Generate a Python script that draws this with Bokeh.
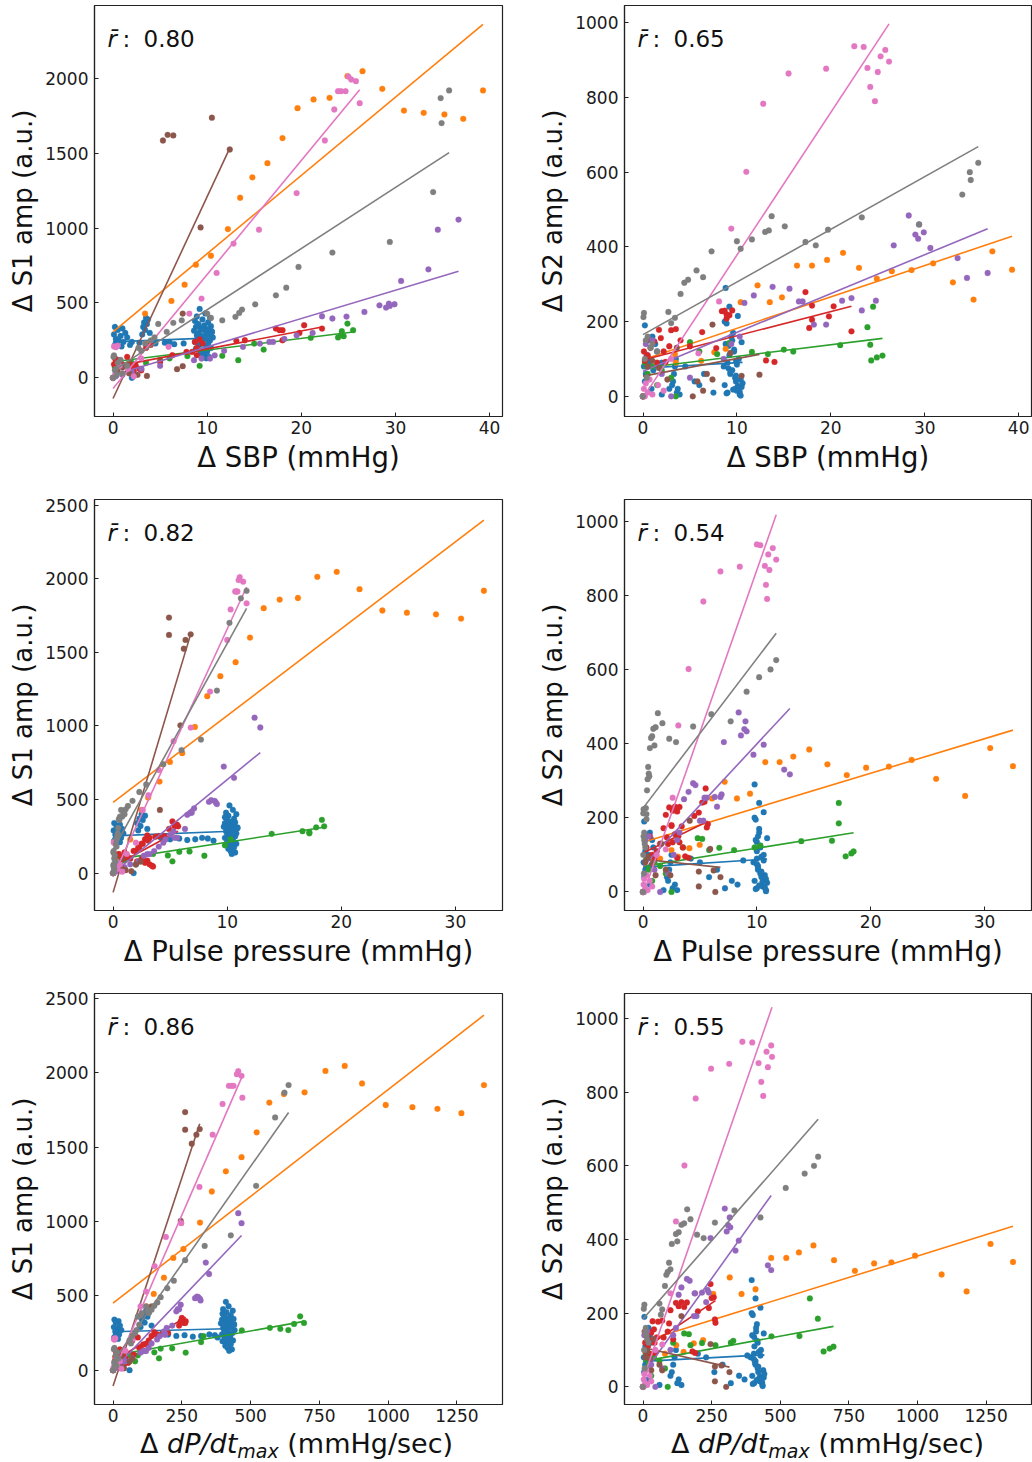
from bokeh.plotting import figure
from bokeh.layouts import column, row
from bokeh.models import Range1d, FixedTicker, Label, Div
from bokeh.embed import file_html
from bokeh.resources import INLINE

FONT = "DejaVu Sans"
COLORS = ["#1f77b4", "#ff7f0e", "#2ca02c", "#d62728", "#9467bd", "#8c564b", "#e377c2", "#7f7f7f"]

# ---------------- data: one list per quantity per subject ----------------
BLUE_S1 = [460, 430, 410, 400, 390, 380, 370, 360, 350, 345, 340, 330, 325, 320, 315, 310, 300, 295, 290, 285,
           280, 270, 265, 260, 250, 240, 235, 230, 220, 210, 200, 195, 185, 175, 165, 150, 140, 130, 355, 305,
           340, 330, 320, 300, 290, 280, 270, 260, 250, 240, 230, 220, 210, 0,
           400, 390, 370, 360, 340, 320, 300, 290,
           240, 230, 235, 225, 230, 240, 235, 220, 0]
BLUE_SBP = [9.2, 9.8, 8.9, 10.3, 9.5, 8.7, 10.1, 9.0, 9.7, 10.4, 8.8, 9.3, 10.0, 9.6, 8.6, 10.5, 9.1, 9.9, 10.2, 8.9,
            9.4, 10.6, 9.0, 9.8, 10.3, 8.7, 9.5, 10.1, 9.2, 9.9, 10.4, 8.8, 9.6, 10.0, 9.3, 9.7, 10.2, 9.9, 9.1, 10.5,
            0.2, 1.0, 0.5, 1.3, 0.1, 0.8, 1.5, 0.3, 0.6, 1.1, 0.4, 0.2, 0.9, 0.0,
            3.5, 3.7, 3.3, 3.6, 3.2, 3.4, 3.9, 3.1,
            2.0, 4.5, 5.5, 6.5, 7.5, 6.0, 2.8, 1.8, 2.0]
BLUE_PP = [10.2, 10.5, 9.9, 10.8, 10.1, 9.8, 10.6, 10.0, 10.3, 10.7, 9.8, 10.1, 10.5, 10.2, 9.7, 10.9, 10.0, 10.4, 10.6, 9.9,
           10.2, 10.8, 10.0, 10.3, 10.7, 9.8, 10.1, 10.5, 10.0, 10.4, 10.8, 9.9, 10.2, 10.6, 10.1, 10.3, 10.7, 10.4, 10.0, 10.9,
           0.1, 0.6, 0.3, 0.8, 0.05, 0.5, 0.9, 0.2, 0.4, 0.7, 0.2, 0.1, 0.6, 0.0,
           2.5, 2.8, 2.3, 2.6, 2.1, 2.4, 3.0, 2.2,
           4.2, 5.0, 5.8, 6.5, 7.2, 7.8, 8.3, 8.8, 1.8]
BLUE_DPDT = [410, 420, 400, 435, 412, 398, 428, 405, 418, 438, 396, 410, 425, 415, 392, 440, 405, 420, 430, 400,
             412, 442, 404, 418, 434, 396, 410, 426, 406, 420, 436, 398, 414, 428, 408, 416, 432, 422, 404, 440,
             5, 20, 10, 25, 3, 15, 30, 8, 12, 22, 9, 4, 18, 0,
             120, 130, 110, 125, 105, 115, 140, 100,
             200, 230, 260, 290, 320, 350, 370, 380, 60]
BLUE_S2 = [240, 20, 195, 5, 150, 30, 215, 10, 120, 45, 290, 60, 15, 170, 80, 25, 135, 40, 100, 8,
           160, 35, 90, 50, 12, 200, 70, 28, 110, 55, 2, 140, 18, 85, 65, 125, 22, 95, 75, 145,
           190, 160, 150, 140, 80, 100, 120, 60, 90, 70, 110, 40, 20, 0,
           100, 20, 60, 10, 40, 80, 5, 30,
           90, 80, 40, 60, 10, 30, 20, 85, 5]

ORANGE_S1 = [0, 229, 429, 513, 622, 755, 815, 993, 1202, 1338, 1433, 1600, 1800, 1858, 1869, 2013, 2047, 1929, 1784, 1769, 1758, 1729, 1918]
ORANGE_SBP = [0.0, 3.5, 3.4, 6.2, 7.6, 8.8, 10.4, 12.2, 13.5, 14.8, 16.4, 18.0, 19.6, 21.3, 23.0, 24.9, 26.5, 28.6, 30.9, 33.0, 35.2, 37.2, 39.3]
ORANGE_PP = [0.0, 1.5, 2.5, 3.07, 4.07, 4.98, 6.06, 7.17, 8.25, 9.4, 10.74, 12.0, 13.2, 14.6, 16.2, 17.9, 19.6, 21.6, 23.6, 25.75, 28.3, 30.5, 32.5]
ORANGE_DPDT = [0, 80, 121, 148, 185, 219, 256, 316, 359, 410, 467, 522, 568, 621, 696, 772, 842, 905, 991, 1088, 1179, 1266, 1348]
ORANGE_S2 = [0, 90, 113, 95, 118, 127, 252, 297, 252, 265, 350, 350, 365, 384, 344, 315, 335, 338, 356, 305, 259, 388, 339]

GREEN_S1 = [278, 270, 285, 311, 362, 318, 267, 229, 189, 118, 147, 145, 80, 120, 100, 90, 110, 70, 60, 100, 0, 130, 85]
GREEN_SBP = [24.5, 23.9, 24.2, 24.3, 24.9, 25.5, 21.0, 15.0, 16.0, 13.3, 11.6, 7.9, 9.2, 5.0, 2.0, 1.0, 0.5, 0.2, 3.0, 3.5, 0.0, 6.0, 1.5]
GREEN_PP = [17.2, 17.2, 16.6, 17.8, 18.3, 18.5, 13.9, 10.3, 9.8, 8.0, 6.7, 5.8, 5.2, 4.8, 1.5, 1.0, 0.5, 0.3, 2.0, 2.5, 0.0, 3.5, 0.8]
GREEN_DPDT = [608, 637, 570, 658, 680, 694, 468, 329, 320, 264, 215, 173, 167, 150, 60, 40, 20, 10, 80, 90, 0, 110, 30]
GREEN_S2 = [240, 185, 138, 96, 104, 109, 137, 125, 120, 113, 119, 113, 143, 145, 70, 80, 60, 90, 50, 0, 0, 120, 30]

RED_S1 = [329, 351, 300, 318, 318, 329, 251, 251, 247, 256, 240, 230, 200, 173, 151, 151, 173, 84, 60, 50,
          70, 90, 45, 80, 100, 120, 110, 130, 90, 60, 0, 140, 200, 220, 105]
RED_SBP = [22.2, 20.3, 19.8, 18.0, 17.7, 17.3, 18.0, 14.0, 13.1, 9.2, 8.7, 9.5, 8.9, 8.4, 8.9, 6.3, 7.8, 2.4, 2.8, 3.0,
           1.9, 1.7, 2.2, 1.2, 0.8, 0.5, 0.3, 0.2, 0.1, 0.4, 0.0, 1.5, 3.5, 4.0, 5.0]
RED_PP = [5.6, 5.2, 4.9, 5.4, 5.7, 5.5, 4.5, 4.0, 3.7, 3.0, 3.2, 2.8, 2.6, 2.3, 2.0, 1.8, 2.2, 3.0, 3.2, 3.4,
          2.8, 2.5, 3.5, 2.1, 1.5, 1.2, 0.8, 0.5, 0.3, 0.6, 0.0, 1.0, 2.5, 3.1, 2.6]
RED_DPDT = [264, 250, 240, 258, 262, 246, 200, 190, 180, 150, 160, 140, 130, 120, 100, 95, 110, 45, 50, 55,
            40, 35, 42, 30, 20, 18, 12, 10, 8, 6, 0, 25, 70, 90, 75]
RED_S2 = [174, 241, 214, 243, 183, 279, 205, 92, 96, 217, 229, 230, 219, 228, 208, 172, 129, 92, 134, 177,
          156, 178, 120, 147, 130, 110, 100, 95, 120, 150, 0, 90, 180, 150, 134]

PURPLE_S1 = [1056, 989, 724, 647, 491, 480, 469, 484, 495, 440, 409, 396, 411, 300, 284, 260, 240, 240, 229, 207,
             180, 150, 129, 129, 118, 60, 40, 20, 10, 0, 80]
PURPLE_SBP = [36.7, 34.5, 33.5, 30.6, 29.9, 29.4, 29.0, 28.3, 29.3, 26.7, 24.8, 23.3, 22.2, 21.2, 19.5, 18.2, 17.0, 16.6, 15.6, 13.8,
              11.8, 10.8, 10.3, 9.4, 8.6, 3.0, 2.0, 1.0, 0.3, 0.0, 5.0]
PURPLE_PP = [12.4, 12.9, 9.7, 10.6, 8.9, 9.0, 9.1, 8.4, 8.6, 7.1, 6.8, 6.5, 6.9, 6.3, 5.3, 5.0, 5.6, 5.4, 4.6, 4.4,
             4.0, 3.6, 3.2, 3.0, 2.7, 1.5, 1.0, 0.5, 0.2, 0.0, 2.2]
PURPLE_DPDT = [455, 467, 337, 349, 310, 316, 318, 298, 305, 246, 240, 230, 235, 215, 195, 185, 190, 188, 170, 160,
               140, 130, 120, 110, 100, 45, 30, 15, 5, 0, 70]
PURPLE_S2 = [330, 317, 370, 397, 439, 460, 433, 484, 422, 404, 256, 230, 263, 256, 192, 192, 254, 254, 288, 293,
             270, 250, 160, 140, 100, 0, 60, 150, 140, 0, 50]

BROWN_S1 = [1736, 1618, 1524, 1584, 1622, 1004, 429, 0, 40, 70, 13, 58, 78, 30, 20]
BROWN_SBP = [10.5, 6.4, 12.4, 5.3, 5.8, 9.3, 7.4, 0.0, 0.5, 1.0, 3.6, 6.8, 7.4, 1.7, 2.6]
BROWN_PP = [4.9, 4.9, 6.2, 6.35, 6.8, 5.9, 4.1, 0.0, 0.2, 0.4, 1.6, 2.0, 2.4, 0.8, 1.1]
BROWN_DPDT = [262, 262, 286, 303, 315, 246, 140, 0, 8, 15, 40, 60, 70, 25, 30]
BROWN_S2 = [55, 15, 58, 0, 40, 116, 192, 0, 80, 95, 130, 60, 45, 76, 45]

PINK_S1 = [1584, 1791, 1980, 1913, 1233, 2011, 1833, 989, 1913, 1913, 896, 700, 529, 429, 1991, 207,
           210, 205, 215, 30, 10, 60, 130, 80, 0, 20]
PINK_SBP = [22.5, 23.5, 25.8, 23.9, 19.5, 25.0, 26.2, 15.5, 24.2, 24.7, 12.8, 11.0, 9.4, 8.1, 25.3, 5.9,
            0.1, 0.3, 0.5, 1.0, 2.2, 1.6, 3.0, 0.7, 0.0, 0.2]
PINK_PP = [10.0, 10.3, 11.4, 10.7, 8.5, 11.1, 11.7, 6.8, 10.8, 10.9, 5.3, 4.0, 3.1, 2.6, 11.0, 2.0,
           0.05, 0.1, 0.2, 0.4, 0.8, 0.6, 1.2, 0.3, 0.0, 0.1]
PINK_DPDT = [362, 398, 467, 421, 314, 455, 470, 248, 431, 438, 192, 151, 120, 100, 450, 70,
             3, 5, 8, 15, 30, 25, 45, 12, 0, 2]
PINK_S2 = [937, 935, 927, 879, 877, 868, 896, 864, 828, 790, 783, 601, 449, 254, 910, 115,
           20, 35, 10, 5, 15, 30, 100, 45, 0, 0]

GRAY_S1 = [1918, 1867, 1700, 1240, 907, 836, 740, 602, 551, 491, 456, 433, 407, 384, 429, 400, 384, 367, 307, 360,
           270, 250, 230, 200, 180, 150, 140, 100, 60, 30, 80, 120, 50, 0, 20]
GRAY_SBP = [35.7, 34.8, 34.9, 34.0, 29.4, 23.3, 19.7, 18.4, 17.3, 15.1, 13.7, 13.4, 13.0, 11.6, 10.0, 10.4, 7.3, 6.4, 5.7, 4.8,
            4.4, 4.0, 3.4, 2.7, 3.0, 0.1, 0.05, 0.5, 0.3, 1.0, 1.5, 0.8, 0.2, 0.0, 0.4]
GRAY_PP = [11.7, 11.2, 10.2, 9.1, 7.7, 6.0, 4.4, 2.9, 2.3, 1.7, 1.3, 1.1, 0.9, 0.8, 0.7, 1.0, 0.6, 0.5, 0.45, 0.55,
           0.4, 0.35, 0.3, 0.25, 0.3, 0.05, 0.02, 0.1, 0.05, 0.1, 0.2, 0.15, 0.02, 0.0, 0.08]
GRAY_DPDT = [638, 623, 589, 520, 428, 333, 262, 221, 197, 173, 161, 150, 140, 130, 120, 125, 105, 100, 95, 90,
             85, 80, 70, 60, 65, 5, 3, 10, 8, 12, 20, 15, 4, 0, 6]
GRAY_S2 = [625, 600, 579, 540, 460, 479, 446, 404, 413, 455, 482, 444, 440, 420, 415, 395, 388, 319, 337, 312,
           304, 274, 210, 226, 196, 223, 212, 160, 150, 140, 120, 130, 100, 0, 50]

# regression lines (intercept, slope) per panel, subject order blue..gray
FIT_B_SBP_S1 = [240, 307, 107, 73, 18, -138, -71, 47]
FIT_M_SBP_S1 = [2.5, 52.2, 7.8, 12.0, 18.9, 134.8, 76.1, 40.8]
FIT_B_SBP_S2 = [75, 98, 76, 97, 67, 54, -4, 165]
FIT_M_SBP_S2 = [1.5, 8.4, 3.1, 6.5, 10.4, 4.7, 38.2, 14.1]
FIT_B_PP_S1 = [253, 480, 90, 45, 0, -131, -22, 160]
FIT_M_PP_S1 = [3.0, 59.0, 12.0, 42.0, 63.5, 258.0, 168.0, 140.0]
FIT_B_PP_S2 = [67, 134, 69, 105, 69, 88, -7, 226]
FIT_M_PP_S2 = [2.0, 9.3, 4.9, 15.0, 33.0, -3.2, 87.5, 40.3]
FIT_B_DP_S1 = [258, 451, 99, 60, 0, -107, -22, 56]
FIT_M_DP_S1 = [0.05, 1.437, 0.33, 1.12, 1.94, 5.6, 4.26, 2.63]
FIT_B_DP_S2 = [69, 123, 69, 102, 34, 107, 20, 184]
FIT_M_DP_S2 = [0.04, 0.232, 0.137, 0.5, 1.04, -0.17, 2.15, 0.85]

R_BAR = ["0.80", "0.65", "0.82", "0.54", "0.86", "0.55"]
X_TICKS_SBP = [0, 10, 20, 30, 40]
X_TICKS_PP = [0, 10, 20, 30]
X_TICKS_DP = [0, 250, 500, 750, 1000, 1250]
Y_TICKS_S1 = [0, 500, 1000, 1500, 2000, 2500]
Y_TICKS_S2 = [0, 200, 400, 600, 800, 1000]

SUBJECTS = [
    dict(SBP=BLUE_SBP, PP=BLUE_PP, DP=BLUE_DPDT, S1=BLUE_S1, S2=BLUE_S2),
    dict(SBP=ORANGE_SBP, PP=ORANGE_PP, DP=ORANGE_DPDT, S1=ORANGE_S1, S2=ORANGE_S2),
    dict(SBP=GREEN_SBP, PP=GREEN_PP, DP=GREEN_DPDT, S1=GREEN_S1, S2=GREEN_S2),
    dict(SBP=RED_SBP, PP=RED_PP, DP=RED_DPDT, S1=RED_S1, S2=RED_S2),
    dict(SBP=PURPLE_SBP, PP=PURPLE_PP, DP=PURPLE_DPDT, S1=PURPLE_S1, S2=PURPLE_S2),
    dict(SBP=BROWN_SBP, PP=BROWN_PP, DP=BROWN_DPDT, S1=BROWN_S1, S2=BROWN_S2),
    dict(SBP=PINK_SBP, PP=PINK_PP, DP=PINK_DPDT, S1=PINK_S1, S2=PINK_S2),
    dict(SBP=GRAY_SBP, PP=GRAY_PP, DP=GRAY_DPDT, S1=GRAY_S1, S2=GRAY_S2),
]

PANELS = [
    dict(x="SBP", y="S1", xr=(-1.97, 41.37), yr=(-258, 2485), xt=X_TICKS_SBP, yt=Y_TICKS_S1[:-1],
         b=FIT_B_SBP_S1, m=FIT_M_SBP_S1, xlabel="Δ SBP (mmHg)", ylabel="Δ S1 amp (a.u.)"),
    dict(x="SBP", y="S2", xr=(-1.97, 41.37), yr=(-54, 1046), xt=X_TICKS_SBP, yt=Y_TICKS_S2,
         b=FIT_B_SBP_S2, m=FIT_M_SBP_S2, xlabel="Δ SBP (mmHg)", ylabel="Δ S2 amp (a.u.)"),
    dict(x="PP", y="S1", xr=(-1.63, 34.13), yr=(-254, 2538), xt=X_TICKS_PP, yt=Y_TICKS_S1,
         b=FIT_B_PP_S1, m=FIT_M_PP_S1, xlabel="Δ Pulse pressure (mmHg)", ylabel="Δ S1 amp (a.u.)"),
    dict(x="PP", y="S2", xr=(-1.63, 34.13), yr=(-50, 1058), xt=X_TICKS_PP, yt=Y_TICKS_S2,
         b=FIT_B_PP_S2, m=FIT_M_PP_S2, xlabel="Δ Pulse pressure (mmHg)", ylabel="Δ S2 amp (a.u.)"),
    dict(x="DP", y="S1", xr=(-67.4, 1415.4), yr=(-231, 2534), xt=X_TICKS_DP, yt=Y_TICKS_S1,
         b=FIT_B_DP_S1, m=FIT_M_DP_S1, xlabel=None, ylabel="Δ S1 amp (a.u.)"),
    dict(x="DP", y="S2", xr=(-67.4, 1415.4), yr=(-48, 1068), xt=X_TICKS_DP, yt=Y_TICKS_S2,
         b=FIT_B_DP_S2, m=FIT_M_DP_S2, xlabel=None, ylabel="Δ S2 amp (a.u.)"),
]

AX = "#222222"
FRAME_W = [408, 407]
FRAME_H = 411
ROW_BORDERS = [(5, 73), (10, 73), (10, 26)]   # (top, bottom) per row
COL_BORDERS = [(94, 10), (112, 1)]            # (left, right) per column


def make_panel(i, spec):
    col_i = i % 2
    row_i = i // 2
    bl, br = COL_BORDERS[col_i]
    bt, bb = ROW_BORDERS[row_i]
    p = figure(width=bl + FRAME_W[col_i] + br, height=bt + FRAME_H + bb,
               x_range=Range1d(*spec["xr"]), y_range=Range1d(*spec["yr"]),
               min_border_left=bl, min_border_right=br, min_border_top=bt, min_border_bottom=bb,
               output_backend="svg", toolbar_location=None)
    p.xgrid.visible = False
    p.ygrid.visible = False
    p.outline_line_color = AX
    p.outline_line_width = 1.2

    for ax, ticks in ((p.xaxis[0], spec["xt"]), (p.yaxis[0], spec["yt"])):
        ax.ticker = FixedTicker(ticks=ticks)
        ax.axis_line_color = AX
        ax.axis_line_width = 1.2
        ax.major_tick_in = 4
        ax.major_tick_out = 0
        ax.major_tick_line_color = AX
        ax.minor_tick_line_color = None
        ax.major_label_text_font = FONT
        ax.major_label_text_font_size = "17px"
        ax.major_label_text_color = "#1a1a1a"
        ax.axis_label_text_font = FONT
        ax.axis_label_text_font_style = "normal"
        ax.axis_label_text_color = "#111111"
    p.xaxis.major_label_standoff = 4
    p.yaxis.major_label_standoff = 6
    p.yaxis.axis_label = spec["ylabel"]
    p.yaxis.axis_label_text_font_size = "26px"
    p.yaxis.axis_label_standoff = 4
    if spec["xlabel"]:
        p.xaxis.axis_label = spec["xlabel"]
        p.xaxis.axis_label_text_font_size = "27.5px"
        p.xaxis.axis_label_standoff = 4

    for k, subj in enumerate(SUBJECTS):
        xs = subj[spec["x"]]
        ys = subj[spec["y"]]
        col = COLORS[k]
        p.scatter(xs, ys, size=5.8, fill_color=col, line_color=col, line_width=0.3)
        x0, x1 = min(xs), max(xs)
        b, m = spec["b"][k], spec["m"][k]
        p.line([x0, x1], [b + m * x0, b + m * x1], line_color=col, line_width=1.6)

    xr0 = spec["xr"][0]
    yr1 = spec["yr"][1]
    for txt, dx, style in (("r\u0304", 13, "italic"), (":", 28, "normal"), (R_BAR[i], 49, "normal")):
        p.add_layout(Label(x=xr0, y=yr1, x_offset=dx, y_offset=-33, text=txt,
                           text_font=FONT, text_font_size="23px", text_font_style=style,
                           text_baseline="alphabetic", text_color="#111111"))
    return p


figs = [make_panel(i, s) for i, s in enumerate(PANELS)]

# bottom-row x-axis titles (italic dP/dt with subscript "max") as HTML text
TITLE_HTML = ('<div style="white-space:nowrap;padding-left:{pad}px;font-family:\'DejaVu Sans\';'
              'font-size:27px;line-height:27px;color:#111111;">'
              'Δ <span style="font-style:italic">dP/dt</span>'
              '<span style="font-style:italic;font-size:19px;position:relative;top:5px;">max</span>'
              ' (mmHg/sec)</div>')
cap_h = 30
cap_left = Div(text=TITLE_HTML.format(pad=140), width=sum(COL_BORDERS[0]) + FRAME_W[0], height=cap_h, margin=0)
cap_right = Div(text=TITLE_HTML.format(pad=159), width=sum(COL_BORDERS[1]) + FRAME_W[1], height=cap_h, margin=0)

layout = column(row(figs[0], figs[1]), row(figs[2], figs[3]), row(figs[4], figs[5]), row(cap_left, cap_right))
open("out.html", "w").write(file_html(layout, INLINE))
